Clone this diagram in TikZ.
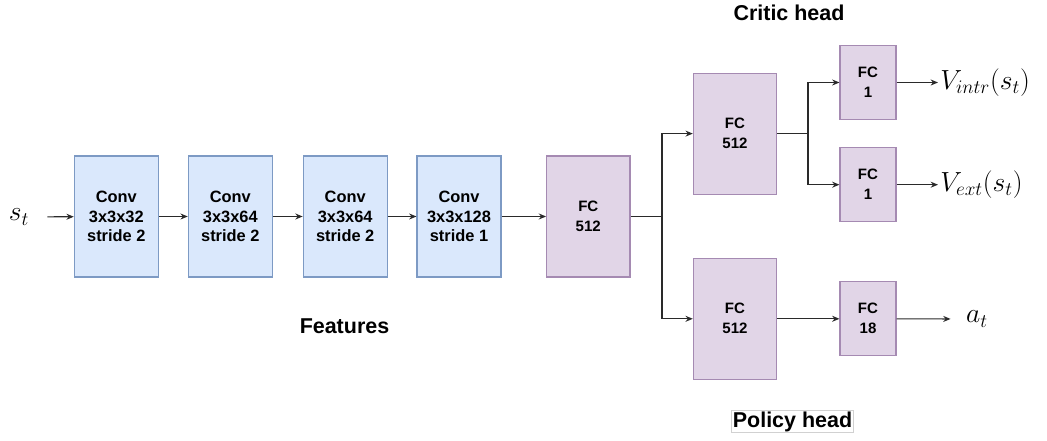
\documentclass[tikz,border=0pt]{standalone}
\usepackage[no-math]{fontspec}
\setsansfont{Liberation Sans}
\usetikzlibrary{arrows.meta}
\definecolor{convfill}{HTML}{DAE8FC}
\definecolor{convline}{HTML}{7D9AC4}
\definecolor{fcfill}{HTML}{E1D5E7}
\definecolor{fcline}{HTML}{A58AB2}
\definecolor{wire}{HTML}{2A2A2A}
\tikzset{
  convbox/.style={draw=convline, fill=convfill, line width=0.8pt, inner sep=0pt,
    minimum width=63pt, minimum height=90.75pt, align=center,
    font=\sffamily\bfseries\fontsize{12.3}{14.5}\selectfont},
  fcbox/.style={draw=fcline, fill=fcfill, line width=0.8pt, inner sep=0pt,
    minimum width=62.5pt, minimum height=90.75pt, align=center,
    font=\sffamily\bfseries\fontsize{11.3}{15}\selectfont},
  fcsmall/.style={fcbox, minimum width=42pt, minimum height=55.5pt},
  mathlbl/.style={inner sep=1.5pt, font=\fontsize{21.5}{25}\selectfont},
  heading/.style={font=\sffamily\bfseries\fontsize{16.1}{19}\selectfont},
  arr/.style={draw=wire, line width=0.85pt, -{Stealth[length=5.5pt, width=4.5pt]}},
  wireline/.style={draw=wire, line width=0.85pt},
}
\begin{document}
\begin{tikzpicture}[x=0.75pt, y=-0.75pt]
\useasboundingbox (0,0) rectangle (1047,441);

% feature extractor
\node[mathlbl] (st) at (19,217) {$s_t$};
\node[convbox] (c1) at (116.3,216.5) {Conv\\3x3x32\\stride 2};
\node[convbox] (c2) at (230.3,216.5) {Conv\\3x3x64\\stride 2};
\node[convbox] (c3) at (345.2,216.5) {Conv\\3x3x64\\stride 2};
\node[convbox] (c4) at (459,216.5) {Conv\\3x3x128\\stride 1};
\node[fcbox] (fc) at (588.3,216.5) {FC\\512};
\node[heading] (feat) at (344.5,326) {Features};

% critic head
\node[fcbox] (critic) at (735,133.6) {FC\\512};
\node[fcsmall] (vin) at (868,82.5) {FC\\1};
\node[fcsmall] (vex) at (868,184.7) {FC\\1};
\node[mathlbl, anchor=west] (vintr) at (938,82.5) {$V_{intr}(s_t)$};
\node[mathlbl, anchor=west] (vext) at (938,184.7) {$V_{ext}(s_t)$};
\node[heading] (critichd) at (789,13) {Critic head};

% policy head
\node[fcbox] (policy) at (735,318.8) {FC\\512};
\node[fcsmall] (fc18) at (868,318.8) {FC\\18};
\node[mathlbl] (at) at (977,319) {$a_t$};
\node[heading, draw=black!18, line width=0.5pt, fill=white, inner xsep=1pt, inner ysep=0.5pt]
  (policyhd) at (792.5,421.5) {Policy head};

% split points
\coordinate (split) at (662,216.5);
\coordinate (split2) at (808,133.6);

% connectors
\draw[arr, shorten <=12pt] (st) -- (c1);
\draw[arr] (c1) -- (c2);
\draw[arr] (c2) -- (c3);
\draw[arr] (c3) -- (c4);
\draw[arr] (c4) -- (fc);
\draw[wireline] (fc) -- (split);
\draw[arr] (split) |- (critic);
\draw[arr] (split) |- (policy);
\draw[wireline] (critic) -- (split2);
\draw[arr] (split2) |- (vin);
\draw[arr] (split2) |- (vex);
\draw[arr] (vin) -- (vintr);
\draw[arr] (vex) -- (vext);
\draw[arr] (policy) -- (fc18);
\draw[arr, shorten >=10pt] (fc18) -- (at);
\end{tikzpicture}
\end{document}
